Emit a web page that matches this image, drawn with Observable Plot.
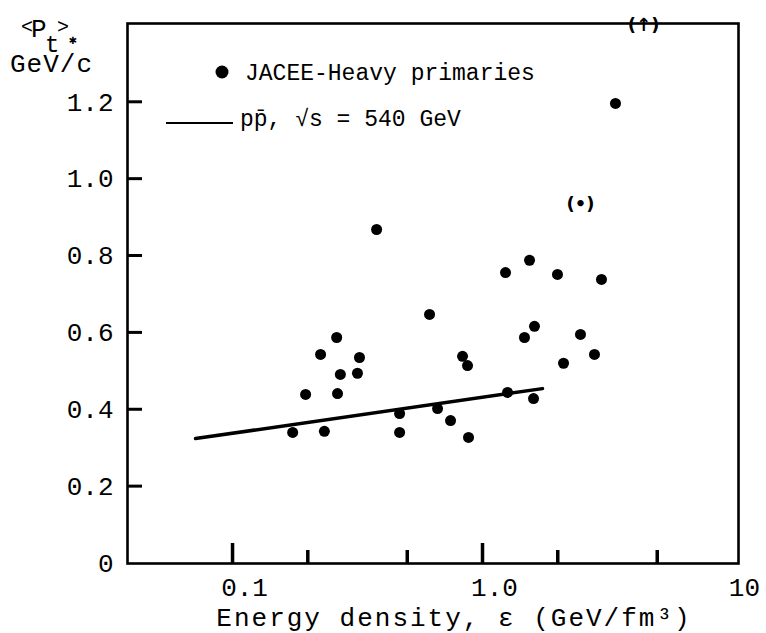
<!DOCTYPE html>
<html>
<head>
<meta charset="utf-8">
<script src="https://cdn.jsdelivr.net/npm/d3@7"></script>
<script src="https://cdn.jsdelivr.net/npm/@observablehq/plot@0.6"></script>
<style>
  html, body { margin: 0; padding: 0; background: #fff; }
</style>
</head>
<body>
<div id="chart"></div>
<script>
// JACEE heavy primaries: energy density (GeV/fm^3) and <Pt> (GeV/c)
const energyDensity = [0.174, 0.196, 0.225, 0.233, 0.261, 0.263, 0.270, 0.316, 0.322, 0.377,
  0.466, 0.466, 0.614, 0.661, 0.745, 0.832, 0.871, 0.879, 1.236, 1.259,
  1.472, 1.542, 1.600, 1.614, 1.995, 2.109, 2.466, 2.805, 2.992, 3.404];
const meanPt = [0.341, 0.440, 0.544, 0.344, 0.588, 0.442, 0.492, 0.495, 0.536, 0.869,
  0.390, 0.341, 0.648, 0.403, 0.372, 0.539, 0.515, 0.328, 0.757, 0.445,
  0.588, 0.789, 0.429, 0.617, 0.752, 0.521, 0.596, 0.544, 0.739, 1.197];

// bracketed (uncertain) events
const bracketX = [2.466, 4.41];
const bracketY = [0.934, 1.40];
const bracketText = ["(•)", "(↑)"];

// p p-bar, sqrt(s) = 540 GeV reference line
const refX = [0.0711, 1.738];
const refY = [0.325, 0.455];

// axes
const xMajorTicks = [0.1, 1, 10];
const xMajorLabels = ["0.1", "1.0", "10"];
const xTickMarksMajor = [0.1, 1];
const xTickMarksMinor = [0.2, 0.5, 2, 5];
const yTicks = [0, 0.2, 0.4, 0.6, 0.8, 1.0, 1.2];
const yTickLabels = ["0", "0.2", "0.4", "0.6", "0.8", "1.0", "1.2"];

const xTitle = "Energy density, ε (GeV/fm³)";
const legendDots = "JACEE-Heavy primaries";
const legendLine = "pp\u0304, √s = 540 GeV";

const W = 766, H = 633;
const mL = 127, mR = 28, mT = 23, mB = 70;
const plotW = W - mL - mR, plotH = H - mT - mB;
const FONT = "'Liberation Mono', 'DejaVu Sans Mono', monospace";

const points = energyDensity.map((x, i) => ({x, y: meanPt[i]}));
const ref = refX.map((x, i) => ({x, y: refY[i]}));
const brackets = bracketX.map((x, i) => ({x, y: bracketY[i], t: bracketText[i]}));

// inward y-axis tick stubs, placed with the plot's y scale
function yTickStubs(index, scales) {
  const g = d3.create("svg:g").attr("stroke", "#000").attr("stroke-width", 3);
  for (const v of yTicks.slice(1)) {
    const y = scales.y(v);
    g.append("line").attr("x1", mL).attr("x2", mL + 15).attr("y1", y).attr("y2", y);
  }
  return g.node();
}

function annotations() {
  const g = d3.create("svg:g").attr("fill", "#000").attr("font-family", FONT)
    .attr("text-anchor", "start");
  // y-axis title <Pt>*
  const t = g.append("text").attr("font-size", 26).attr("text-anchor", "start");
  t.append("tspan").attr("x", 21).attr("y", 33).attr("font-size", 20).text("<");
  t.append("tspan").attr("x", 31).attr("y", 37).text("P");
  t.append("tspan").attr("x", 45).attr("y", 52).attr("font-size", 24).text("t");
  t.append("tspan").attr("x", 57).attr("y", 33).attr("font-size", 20).text(">");
  t.append("tspan").attr("x", 69).attr("y", 44).attr("font-size", 13).attr("font-weight", "bold").text("✱");
  g.append("text").attr("x", 10).attr("y", 72).attr("font-size", 26)
    .attr("text-anchor", "start").attr("letter-spacing", 1).text("GeV/c");
  // legend
  g.append("circle").attr("cx", 222).attr("cy", 72).attr("r", 6.5);
  g.append("text").attr("x", 245).attr("y", 72).attr("dy", "0.35em")
    .attr("text-anchor", "start").attr("font-size", 23).text(legendDots);
  g.append("line").attr("x1", 166).attr("x2", 233).attr("y1", 123).attr("y2", 123)
    .attr("stroke", "#000").attr("stroke-width", 2);
  g.append("text").attr("x", 240).attr("y", 118).attr("dy", "0.35em")
    .attr("text-anchor", "start").attr("font-size", 23).text(legendLine);
  // x-axis title
  g.append("text").attr("x", 454).attr("y", 617).attr("dy", "0.35em")
    .attr("text-anchor", "middle").attr("font-size", 26)
    .attr("letter-spacing", 2).text(xTitle);
  return g.node();
}

const chart = Plot.plot({
  width: W,
  height: H,
  marginLeft: mL,
  marginRight: mR,
  marginTop: mT,
  marginBottom: mB,
  style: {fontFamily: FONT, fontSize: "26px", color: "#000", background: "#fff"},
  x: {type: "log", domain: [0.038, 10.57]},
  y: {domain: [0, 1.405]},
  marks: [
    Plot.frame({stroke: "#000", strokeWidth: 2.6}),
    Plot.tickX(xTickMarksMajor, {insetTop: plotH - 20, stroke: "#000", strokeWidth: 3.5}),
    Plot.tickX(xTickMarksMinor, {insetTop: plotH - 13, stroke: "#000", strokeWidth: 3.5}),
    yTickStubs,
    Plot.axisX(xMajorTicks, {
      tickSize: 0, tickPadding: 14, dx: 12, label: null, fontSize: 26,
      tickFormat: d => xMajorLabels[xMajorTicks.indexOf(d)]
    }),
    Plot.axisY(yTicks, {
      tickSize: 0, tickPadding: 14, label: null, fontSize: 26,
      tickFormat: d => yTickLabels[yTicks.indexOf(d)]
    }),
    Plot.line(ref, {x: "x", y: "y", stroke: "#000", strokeWidth: 3.5, strokeLinecap: "round"}),
    Plot.dot(points, {x: "x", y: "y", r: 5.5, fill: "#000"}),
    Plot.text(brackets, {x: "x", y: "y", text: "t", fontSize: 18, fontWeight: "bold",
      fontFamily: "'DejaVu Sans', sans-serif", fill: "#000"}),
    annotations
  ]
});

document.getElementById("chart").appendChild(chart);
</script>
</body>
</html>
